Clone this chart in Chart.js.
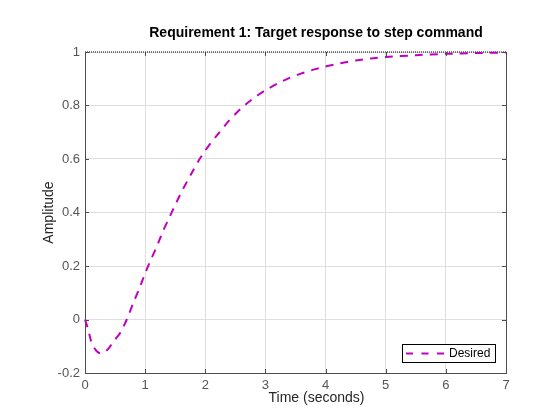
<!DOCTYPE html>
<html>
<head>
<meta charset="utf-8">
<script src="https://cdn.jsdelivr.net/npm/chart.js@4/dist/chart.umd.min.js"></script>
<style>
  html, body { margin: 0; padding: 0; background: #fff; }
  #wrap { width: 560px; height: 420px; }
</style>
</head>
<body>
<div id="wrap"><canvas id="stepChart" width="560" height="420"></canvas></div>
<script>
// values
const timeValues = [0, 0.05, 0.1, 0.15, 0.2, 0.25, 0.3, 0.35, 0.4, 0.5, 0.6, 0.7, 0.8, 0.9,
  1.0, 1.1, 1.2, 1.3, 1.4, 1.5, 1.6, 1.7, 1.8, 1.9, 2.0, 2.1, 2.2, 2.3, 2.4, 2.5, 2.6, 2.7,
  2.8, 2.9, 3.0, 3.2, 3.4, 3.6, 3.8, 4.0, 4.25, 4.5, 4.75, 5.0, 5.5, 6.0, 6.5, 7.0];
const desiredValues = [0, -0.035, -0.08, -0.105, -0.12, -0.126, -0.125, -0.118, -0.106, -0.075,
  -0.045, 0.003, 0.06, 0.114, 0.173, 0.226, 0.276, 0.332, 0.38, 0.428, 0.475, 0.517, 0.558,
  0.598, 0.632, 0.663, 0.69, 0.717, 0.745, 0.768, 0.79, 0.809, 0.827, 0.843, 0.857, 0.882,
  0.903, 0.92, 0.934, 0.946, 0.958, 0.968, 0.976, 0.981, 0.988, 0.993, 0.996, 0.998];
const boundTimes = [0, 7];
const boundValues = [1, 1];
const xTicks = [0, 1, 2, 3, 4, 5, 6, 7];
const yTicks = [-0.2, 0, 0.2, 0.4, 0.6, 0.8, 1];

const titleText = 'Requirement 1: Target response to step command';
const xLabel = 'Time (seconds)';
const yLabel = 'Amplitude';

const axisGray = '#4d4d4d';
const tickGray = '#555';
const lineColor = '#c000c0';
const fontFamily = '"Liberation Sans", Arial, sans-serif';

const decorations = {
  id: 'decorations',
  afterDraw(chart) {
    const ctx = chart.ctx;
    const area = chart.chartArea;
    const xs = chart.scales.x;
    const ys = chart.scales.y;
    ctx.save();

    // right box edge
    ctx.strokeStyle = axisGray;
    ctx.lineWidth = 1;
    ctx.beginPath();
    ctx.moveTo(area.right + 0.5, area.top);
    ctx.lineTo(area.right + 0.5, area.bottom);
    ctx.stroke();

    // inward ticks
    ctx.beginPath();
    xTicks.forEach(v => {
      const px = Math.round(xs.getPixelForValue(v)) + 0.5;
      ctx.moveTo(px, area.bottom); ctx.lineTo(px, area.bottom - 4);
      ctx.moveTo(px, area.top); ctx.lineTo(px, area.top + 4);
    });
    yTicks.forEach(v => {
      const py = Math.round(ys.getPixelForValue(v)) + 0.5;
      ctx.moveTo(area.left, py); ctx.lineTo(area.left + 4, py);
      ctx.moveTo(area.right, py); ctx.lineTo(area.right - 4, py);
    });
    ctx.stroke();

    // title and axis labels
    ctx.fillStyle = '#000';
    ctx.textAlign = 'center';
    ctx.textBaseline = 'alphabetic';
    ctx.font = 'bold 14px ' + fontFamily;
    ctx.fillText(titleText, 316, 37);
    ctx.fillStyle = '#262626';
    ctx.font = '14px ' + fontFamily;
    ctx.fillText(xLabel, 316.5, 402);
    ctx.translate(53, (area.top + area.bottom) / 2);
    ctx.rotate(-Math.PI / 2);
    ctx.fillText(yLabel, 0, 0);
    ctx.setTransform(1, 0, 0, 1, 0, 0);
    ctx.restore();

    // legend box, lower right
    const ds = chart.data.datasets[0];
    ctx.save();
    const bx = 402.5, by = 344.5, bw = 93, bh = 18;
    ctx.fillStyle = '#fff';
    ctx.fillRect(bx, by, bw, bh);
    ctx.strokeStyle = '#000';
    ctx.lineWidth = 1;
    ctx.strokeRect(bx, by, bw, bh);
    ctx.strokeStyle = ds.borderColor;
    ctx.lineWidth = ds.borderWidth;
    ctx.setLineDash([7, 8.5]);
    ctx.beginPath();
    ctx.moveTo(406, by + bh / 2);
    ctx.lineTo(446, by + bh / 2);
    ctx.stroke();
    ctx.setLineDash([]);
    ctx.fillStyle = '#000';
    ctx.font = '12px ' + fontFamily;
    ctx.textAlign = 'left';
    ctx.textBaseline = 'middle';
    ctx.fillText(ds.label, 449, by + bh / 2 + 0.5);
    ctx.restore();
  }
};

new Chart(document.getElementById('stepChart'), {
  type: 'line',
  data: {
    datasets: [
      {
        label: 'Desired',
        data: timeValues.map((t, i) => ({ x: t, y: desiredValues[i] })),
        borderColor: lineColor,
        borderWidth: 2,
        borderDash: [8, 7],
        pointRadius: 0,
        fill: false,
        tension: 0.2,
        clip: 4
      },
      {
        label: 'Bound',
        data: boundTimes.map((t, i) => ({ x: t, y: boundValues[i] })),
        borderColor: '#000',
        borderWidth: 1,
        borderDash: [1, 1],
        pointRadius: 0,
        fill: false,
        clip: 4
      }
    ]
  },
  options: {
    responsive: false,
    animation: false,
    layout: { padding: { top: 52, right: 54, left: 0, bottom: 0 } },
    plugins: {
      legend: { display: false },
      title: { display: false },
      tooltip: { enabled: false }
    },
    scales: {
      x: {
        type: 'linear',
        min: 0,
        max: 7,
        afterBuildTicks: s => { s.ticks = xTicks.map(v => ({ value: v })); },
        afterFit: s => { s.height = 47; },
        grid: { color: '#dedede', drawTicks: false },
        border: { color: axisGray, width: 1 },
        ticks: {
          padding: 5,
          color: tickGray,
          font: { family: fontFamily, size: 13 },
          callback: v => String(v)
        }
      },
      y: {
        type: 'linear',
        min: -0.2,
        max: 1,
        afterBuildTicks: s => { s.ticks = yTicks.map(v => ({ value: v })); },
        afterFit: s => { s.width = 85; },
        grid: { color: '#dedede', drawTicks: false },
        border: { color: axisGray, width: 1 },
        ticks: {
          padding: 5,
          color: tickGray,
          font: { family: fontFamily, size: 13 },
          callback: v => String(Number(v.toFixed(1)))
        }
      }
    }
  },
  plugins: [decorations]
});
</script>
</body>
</html>
